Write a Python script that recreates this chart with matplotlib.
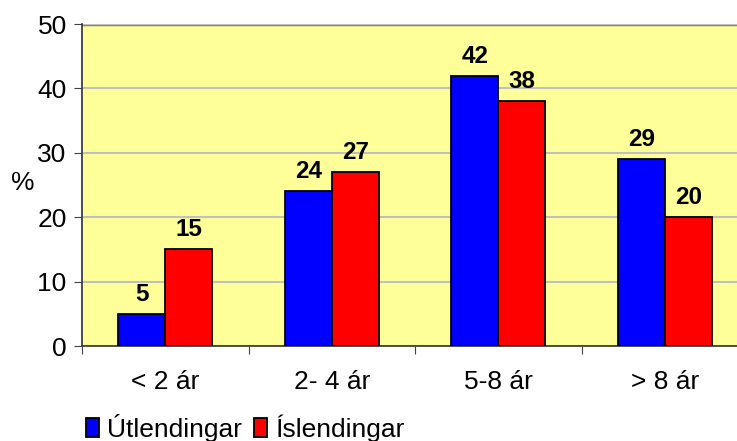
import numpy as np
from matplotlib import pyplot as plt

plt.rcParams['font.family'] = ['Liberation Sans', 'DejaVu Sans']

categories = ['< 2 ár', '2- 4 ár', '5-8 ár', '> 8 ár']
utlendingar = [5, 24, 42, 29]
islendingar = [15, 27, 38, 20]
yticks = [0, 10, 20, 30, 40, 50]

fig = plt.figure(figsize=(7.37, 4.41), dpi=100)
W, H = 737, 441
# plot area runs past the right edge of the picture, as in the original
ax = fig.add_axes([82 / W, 1 - 346 / H, 666 / W, (346 - 24) / H])
ax.set_facecolor('#FFFF99')

x = np.arange(len(categories))
w = 0.283
b1 = ax.bar(x - w / 2, utlendingar, w, color='#0000FF', edgecolor='black',
            linewidth=1.3, label='Útlendingar', zorder=3)
b2 = ax.bar(x + w / 2, islendingar, w, color='#FF0000', edgecolor='black',
            linewidth=1.3, label='Íslendingar', zorder=3)

for bars in (b1, b2):
    for r in bars:
        ax.annotate(f'{r.get_height():g}',
                    (r.get_x() + r.get_width() / 2, r.get_height()),
                    xytext=(0, 14), textcoords='offset points',
                    ha='center', va='center', fontsize=17.5, fontweight='bold',
                    zorder=4)

ax.set_xlim(-0.5, len(categories) - 0.5)
ax.set_ylim(0, 50)
ax.set_yticks(yticks)
ax.set_yticklabels([str(v) for v in yticks], fontsize=19)
ax.set_xticks(np.arange(len(categories) + 1) - 0.5)
ax.set_xticklabels([])
ax.set_xticks(x, minor=True)
ax.set_xticklabels(categories, minor=True, fontsize=19)
ax.tick_params(axis='x', which='minor', length=0, pad=17)
ax.tick_params(axis='x', which='major', length=6, color='#404040')
ax.tick_params(axis='y', length=6, color='#404040', pad=5)

ax.grid(axis='y', color='#C0C0C0', linewidth=1.5, zorder=0)
ax.axhline(50, color='#808080', linewidth=2.5, zorder=1)
for s in ('top', 'right'):
    ax.spines[s].set_visible(False)
for s in ('left', 'bottom'):
    ax.spines[s].set_color('#404040')
    ax.spines[s].set_linewidth(1.3)

fig.text(11 / W, 1 - 183 / H, '%', fontsize=19, va='center', ha='left')

fig.legend(handles=[b1, b2], loc='center left',
           bbox_to_anchor=(75 / W, 1 - 428 / H), ncol=2, frameon=False,
           fontsize=19, handlelength=0.5, handleheight=0.75,
           handletextpad=0.3, columnspacing=0.45, borderaxespad=0)

fig.savefig('out.png', facecolor='white')
